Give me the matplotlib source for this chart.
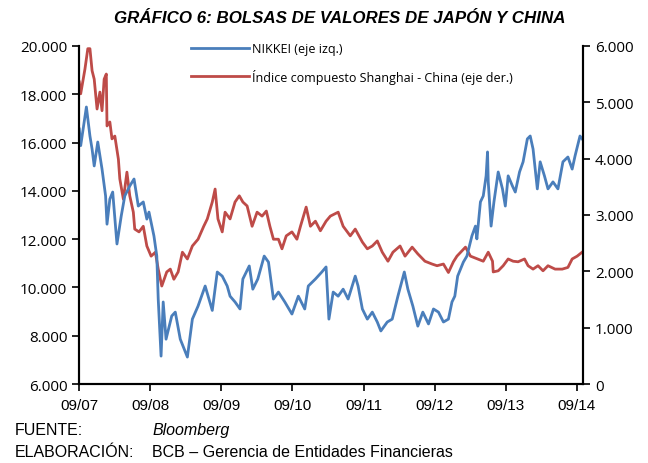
import matplotlib.pyplot as plt
from matplotlib.ticker import FuncFormatter

# NIKKEI (eje izq.) -- fecha en años decimales, valor del índice
nikkei_t = [2007.67, 2007.69, 2007.77, 2007.82, 2007.85, 2007.88, 2007.93, 2007.99,
            2008.04, 2008.06, 2008.10, 2008.14, 2008.20, 2008.26, 2008.31, 2008.38,
            2008.44, 2008.50, 2008.57, 2008.62, 2008.65, 2008.72, 2008.76, 2008.78,
            2008.82, 2008.85, 2008.89, 2008.97, 2009.02, 2009.09, 2009.19, 2009.26,
            2009.34, 2009.44, 2009.54, 2009.61, 2009.68, 2009.75, 2009.79, 2009.86,
            2009.93, 2009.97, 2010.06, 2010.11, 2010.18, 2010.27, 2010.33, 2010.40,
            2010.47, 2010.56, 2010.66, 2010.75, 2010.84, 2010.89, 2010.99, 2011.08,
            2011.14, 2011.18, 2011.24, 2011.31, 2011.38, 2011.45, 2011.55, 2011.59,
            2011.65, 2011.72, 2011.79, 2011.86, 2011.91, 2012.00, 2012.07, 2012.15,
            2012.24, 2012.29, 2012.36, 2012.43, 2012.50, 2012.58, 2012.65, 2012.72,
            2012.79, 2012.86, 2012.91, 2012.95, 2012.99, 2013.07, 2013.12, 2013.19,
            2013.24, 2013.26, 2013.31, 2013.35, 2013.39, 2013.41, 2013.42, 2013.46,
            2013.50, 2013.56, 2013.62, 2013.66, 2013.70, 2013.76, 2013.80, 2013.86,
            2013.91, 2013.97, 2014.01, 2014.05, 2014.11, 2014.15, 2014.21, 2014.26,
            2014.33, 2014.40, 2014.47, 2014.54, 2014.60, 2014.64, 2014.71, 2014.74]
nikkei_v = [16560, 15870, 17470, 16270, 15730, 15030, 16020, 14900,
            13790, 12620, 13660, 13950, 11800, 12960, 13790, 14200,
            14490, 13370, 13540, 12830, 13120, 12130, 11300, 9520,
            7160, 9400, 7860, 8820, 8980, 7860, 7120, 8690,
            9230, 10060, 9050, 10640, 10470, 10060, 9640, 9400,
            9110, 10350, 10890, 9930, 10350, 11300, 11050, 9520,
            9810, 9400, 8900, 9640, 9110, 10060, 10350, 10640,
            10850, 8690, 9810, 9640, 9930, 9520, 10470, 10060,
            9110, 8690, 8980, 8570, 8200, 8570, 8690, 9640,
            10640, 9930, 9230, 8400, 8980, 8490, 9110, 8980,
            8570, 8690, 9400, 9640, 10470, 11050, 11300, 12130,
            12540, 12010, 13540, 13790, 14620, 15610, 14370, 12540,
            13540, 14780, 14080, 13370, 14620, 14200, 13950, 14780,
            15200, 16150, 16270, 15730, 14080, 15200, 14620, 14080,
            14370, 14080, 15200, 15400, 14900, 15440, 16270, 16150]

# Índice compuesto Shanghai (eje der.)
shanghai_t = [2007.67, 2007.69, 2007.75, 2007.79, 2007.82, 2007.85, 2007.88, 2007.92,
              2007.96, 2007.99, 2008.02, 2008.05, 2008.06, 2008.10, 2008.13, 2008.17,
              2008.22, 2008.24, 2008.29, 2008.34, 2008.38, 2008.43, 2008.45, 2008.51,
              2008.57, 2008.62, 2008.68, 2008.74, 2008.78, 2008.83, 2008.90, 2008.95,
              2009.00, 2009.06, 2009.12, 2009.19, 2009.26, 2009.34, 2009.42, 2009.47,
              2009.54, 2009.58, 2009.62, 2009.68, 2009.72, 2009.79, 2009.86, 2009.92,
              2009.97, 2010.03, 2010.10, 2010.17, 2010.24, 2010.30, 2010.35, 2010.40,
              2010.47, 2010.52, 2010.58, 2010.66, 2010.73, 2010.78, 2010.86, 2010.92,
              2010.99, 2011.06, 2011.14, 2011.20, 2011.31, 2011.38, 2011.48, 2011.55,
              2011.65, 2011.72, 2011.79, 2011.86, 2011.93, 2012.01, 2012.08, 2012.18,
              2012.25, 2012.35, 2012.43, 2012.53, 2012.63, 2012.70, 2012.79, 2012.86,
              2012.93, 2012.98, 2013.10, 2013.17, 2013.27, 2013.35, 2013.42, 2013.48,
              2013.49, 2013.56, 2013.63, 2013.70, 2013.77, 2013.84, 2013.93, 2013.98,
              2014.05, 2014.12, 2014.19, 2014.26, 2014.36, 2014.46, 2014.54, 2014.60,
              2014.67, 2014.74]
shanghai_v = [5360, 5150, 5590, 5950, 5950, 5560, 5410, 4880,
              5180, 4850, 5410, 5500, 4580, 4650, 4350, 4400,
              3990, 3640, 3280, 3760, 3340, 3050, 2750, 2700,
              2800, 2450, 2270, 2340, 2040, 1740, 1990, 2040,
              1860, 1990, 2340, 2220, 2450, 2570, 2800, 2930,
              3230, 3460, 2930, 2700, 3050, 2930, 3230, 3340,
              3230, 3160, 2800, 3050, 2980, 3070, 2800, 2570,
              2570, 2400, 2630, 2700, 2570, 2800, 3140, 2800,
              2890, 2720, 2890, 2980, 3050, 2800, 2630, 2750,
              2520, 2400, 2450, 2540, 2340, 2180, 2340, 2450,
              2270, 2430, 2310, 2180, 2130, 2100, 2130, 1980,
              2170, 2270, 2430, 2270, 2220, 2180, 2340, 2180,
              1990, 2010, 2100, 2220, 2180, 2170, 2220, 2100,
              2040, 2100, 2010, 2100, 2040, 2040, 2070, 2220,
              2270, 2340]

tick_pos = [2007.667, 2008.667, 2009.667, 2010.667, 2011.667, 2012.667, 2013.667, 2014.667]
tick_lab = ["09/07", "09/08", "09/09", "09/10", "09/11", "09/12", "09/13", "09/14"]

azul = "#4A7EBB"
rojo = "#BE4B48"


def miles(v, pos):
    return f"{int(v):,}".replace(",", ".")


fig = plt.figure(figsize=(6.48, 4.64), dpi=100)
ax = fig.add_axes([0.122, 0.170, 0.778, 0.729])
ax2 = ax.twinx()

l1, = ax.plot(nikkei_t, nikkei_v, color=azul, lw=2, label="NIKKEI (eje izq.)")
l2, = ax2.plot(shanghai_t, shanghai_v, color=rojo, lw=2,
               label="Índice compuesto Shanghai - China (eje der.)")
ax.set_zorder(ax2.get_zorder() + 1)
ax.patch.set_visible(False)

ax.set_xlim(2007.667, 2014.755)
ax.set_ylim(6000, 20000)
ax2.set_ylim(0, 6000)
ax.set_yticks(range(6000, 20001, 2000))
ax2.set_yticks(range(0, 6001, 1000))
ax.yaxis.set_major_formatter(FuncFormatter(miles))
ax2.yaxis.set_major_formatter(FuncFormatter(miles))
ax.set_xticks(tick_pos)
ax.set_xticklabels(tick_lab, family="Liberation Sans", fontsize=11)

for a in (ax, ax2):
    a.spines["top"].set_visible(False)
    for s in ("left", "right", "bottom"):
        a.spines[s].set_linewidth(1.5)
    a.tick_params(direction="out", length=5, width=1.2)
for lab in ax.get_yticklabels() + ax2.get_yticklabels():
    lab.set_family("Open Sans")
    lab.set_fontsize(11)
ax.tick_params(axis="x", pad=5)

ax.legend(handles=[l1, l2], loc="upper left", bbox_to_anchor=(0.2, 1.045),
          frameon=False, handlelength=4.6, labelspacing=1.1, handletextpad=0.3,
          prop={"family": "Open Sans", "size": 9})

fig.text(0.525, 0.96, "GRÁFICO 6: BOLSAS DE VALORES DE JAPÓN Y CHINA",
         ha="center", va="center", fontsize=12.2, fontweight="bold",
         style="italic", family="Liberation Sans")
fig.text(0.023, 0.072, "FUENTE:", fontsize=11.5, family="Liberation Sans", va="center")
fig.text(0.235, 0.072, "Bloomberg", fontsize=11.5, style="italic",
         family="Liberation Sans", va="center")
fig.text(0.023, 0.025, "ELABORACIÓN:", fontsize=11.5, family="Liberation Sans", va="center")
fig.text(0.235, 0.025, "BCB – Gerencia de Entidades Financieras", fontsize=11.5,
         family="Liberation Sans", va="center")

fig.savefig("out.png", dpi=100)
